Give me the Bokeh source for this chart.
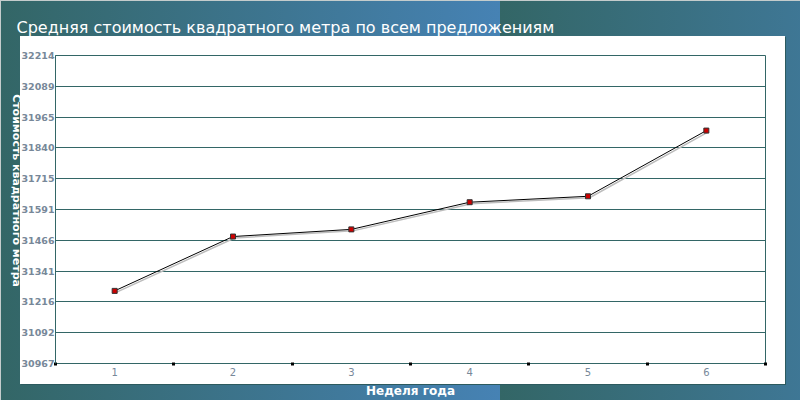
import math
from bokeh.plotting import figure
from bokeh.models import Range1d, FixedTicker, ColumnDataSource
from bokeh.embed import file_html
from bokeh.resources import INLINE

# ---- data ----
weeks = [1, 2, 3, 4, 5, 6]
price = [31261, 31481, 31510, 31620, 31644, 31910]
y_ticks = [30967, 31092, 31216, 31341, 31466, 31591, 31715, 31840, 31965, 32089, 32214]
title_text = "Средняя стоимость квадратного метра по всем предложениям"
x_title = "Неделя года"
y_title = "Стоимость квадратного метра"

# ---- layout constants ----
W, H = 800, 400
ML, MR, MT, MB = 55, 35, 55, 35
FRAME_W, FRAME_H = W - ML - MR, H - MT - MB
GRID = "#336666"
LABEL_GREY = "#778899"

x0, x1 = weeks[0] - 0.5, weeks[-1] + 0.5
y0, y1 = y_ticks[0], y_ticks[-1]

p = figure(width=W, height=H, output_backend="svg", toolbar_location=None,
           x_range=Range1d(x0, x1), y_range=Range1d(y0, y1),
           min_border_left=ML, min_border_right=MR, min_border_top=MT, min_border_bottom=MB)

p.styles = {"background":
            "linear-gradient(#c4cccc,#c4cccc) 0px 0px / 100% 1px no-repeat, "
            "linear-gradient(#c4cccc,#c4cccc) 0px 0px / 1px 100% no-repeat, "
            "linear-gradient(#ffffff,#ffffff) 20px 36px / 765px 348px no-repeat, "
            "linear-gradient(#2c5a5e,#2c5a5e) 785px 37px / 1px 348px no-repeat, "
            "linear-gradient(#2c5a5e,#2c5a5e) 21px 384px / 765px 1px no-repeat, "
            "repeating-linear-gradient(90deg, #336666 0px, #4682b4 500px)"}
p.border_fill_color = None
p.background_fill_color = "white"
p.outline_line_color = GRID
p.outline_line_width = 1

# title
p.title.text = title_text
p.title.text_color = "white"
p.title.text_font = "DejaVu Sans"
p.title.text_font_size = "16px"
p.title.text_font_style = "normal"
p.title.align = "left"
p.title.vertical_align = "top"
p.title.offset = -39
p.title.standoff = 34

# grids
p.xgrid.visible = False
p.ygrid.ticker = FixedTicker(ticks=y_ticks)
p.ygrid.grid_line_color = GRID
p.ygrid.grid_line_width = 1

# y axis
ya = p.yaxis[0]
ya.ticker = FixedTicker(ticks=y_ticks)
ya.major_label_overrides = {t: str(t) for t in y_ticks}
ya.axis_line_color = GRID
ya.major_tick_line_color = None
ya.minor_tick_line_color = None
ya.major_tick_out = 0
ya.major_tick_in = 0
ya.major_label_standoff = 1
ya.major_label_text_color = LABEL_GREY
ya.major_label_text_font = "DejaVu Sans"
ya.major_label_text_font_size = "9.5px"
ya.major_label_text_font_style = "bold"
# label reads top-to-bottom; anchored at its end at the bottom of the axis,
# trailing no-break spaces lift it to the reference position
ya.axis_label = y_title + "\u00a0" * 20
ya.axis_label_standoff = 2
ya.axis_label_text_color = "white"
ya.axis_label_text_font = "DejaVu Sans"
ya.axis_label_text_font_size = "11px"
ya.axis_label_text_font_style = "bold"
ya.axis_label_orientation = -math.pi / 2
ya.axis_label_align = "start"

# x axis
boundaries = [w - 0.5 for w in weeks] + [weeks[-1] + 0.5]
xa = p.xaxis[0]
xa.ticker = FixedTicker(ticks=weeks, minor_ticks=boundaries)
xa.major_label_overrides = {w: str(w) for w in weeks}
xa.axis_line_color = GRID
xa.major_tick_line_color = None
xa.major_tick_out = 0
xa.major_tick_in = 0
xa.minor_tick_line_color = "black"
xa.minor_tick_line_width = 3
xa.minor_tick_in = 1
xa.minor_tick_out = 2
xa.major_label_standoff = 2
xa.major_label_text_color = LABEL_GREY
xa.major_label_text_font = "DejaVu Sans"
xa.major_label_text_font_size = "10px"
xa.axis_label = x_title
xa.axis_label_standoff = 5
xa.axis_label_text_color = "white"
xa.axis_label_text_font = "DejaVu Sans"
xa.axis_label_text_font_size = "12px"
xa.axis_label_text_font_style = "bold"

# line with shadow
px_x = (x1 - x0) / FRAME_W
px_y = (y1 - y0) / FRAME_H
shadow_x = [w + 1.5 * px_x for w in weeks]
shadow_y = [v - 1.5 * px_y for v in price]
p.line(shadow_x, shadow_y, line_color="#bdbdbd", line_width=1.5)
src = ColumnDataSource(dict(x=weeks, y=price))
p.line("x", "y", source=src, line_color="black", line_width=1)
p.scatter("x", "y", source=src, marker="square", size=5,
          fill_color="#cc0000", line_color="#333333", line_width=1)

open("out.html", "w").write(file_html(p, INLINE))
